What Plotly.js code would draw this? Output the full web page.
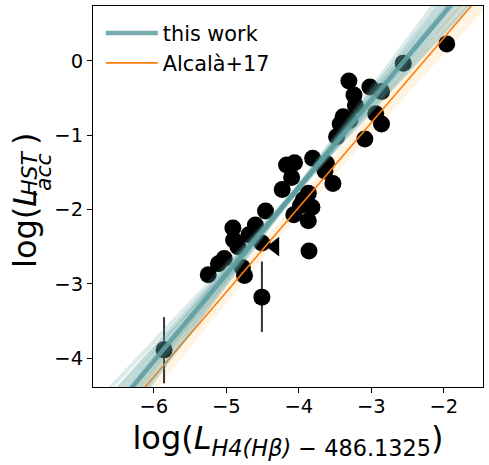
<!DOCTYPE html>
<html>
<head>
<meta charset="utf-8">
<script src="https://cdn.plot.ly/plotly-3.0.1.min.js"></script>
<style>html,body{margin:0;padding:0;background:#fff;}</style>
</head>
<body>
<div id="chart" style="width:489px;height:465px;"></div>
<script>
// ---- data ----
var ptX = [-1.96,-2.56,-3.31,-3.02,-2.86,-3.24,-3.22,-3.39,-2.94,-2.86,-3.43,-3.48,-3.09,-3.30,
           -3.81,-4.17,-4.06,-3.62,-3.64,-3.53,-4.10,-4.23,-3.87,-3.94,-3.82,-4.07,-4.46,-3.87,
           -4.60,-4.91,-4.69,-4.90,-4.84,-4.51,-3.86,-5.03,-5.11,-4.78,-5.25,-4.75,-4.51,-5.86,-3.98];
var ptY = [0.23,-0.03,-0.27,-0.35,-0.41,-0.46,-0.60,-0.75,-0.71,-0.85,-0.85,-1.02,-1.05,-0.80,
           -1.31,-1.40,-1.37,-1.38,-1.48,-1.65,-1.57,-1.73,-1.78,-1.87,-1.97,-2.07,-2.02,-2.15,
           -2.21,-2.25,-2.34,-2.41,-2.50,-2.45,-2.56,-2.66,-2.73,-2.78,-2.88,-2.89,-3.18,-3.89,-1.95];
var errPlus  = [0,0,0,0,0,0,0,0,0,0,0,0,0,0,0,0,0,0,0,0,0,0,0,0,0,0,0,0,0,0,0,0,0,0,0,0,0,0,0,0,0.48,0.44,0];
var errMinus = [0,0,0,0,0,0,0,0,0,0,0,0,0,0,0,0,0,0,0,0,0,0,0,0,0,0,0,0,0,0,0,0,0,0,0,0,0,0,0,0,0.47,0.45,0];
var limX = [-4.33];
var limY = [-2.50];

// fit samples ("this work"): slopes and intercepts
var sampleSlope = [1.04,1.07,1.09,1.11,1.13,1.15,1.16,1.17,1.18,1.19,1.21,1.23,1.25,1.28,1.31];
var sampleInter = [2.46,2.55,2.66,2.72,2.83,2.88,2.95,2.97,3.03,3.05,3.15,3.21,3.32,3.41,3.56];
var fitSlope = 1.17, fitInter = 2.98;
// Alcala+17 relation and its band
var alcSlope = 1.14, alcInter = 2.59;
var bandX = [-7.2, -5.5, -4.2, -3.0, -1.0];
var bandHalf = [0.30, 0.18, 0.11, 0.15, 0.28];

var xTicks = [-6,-5,-4,-3,-2];
var yTicks = [-4,-3,-2,-1,0];

// ---- build traces ----
var lineX = [-7.5, -1.0];
function lineY(a,b){ return lineX.map(function(x){return a*x+b;}); }

var traces = [];
var bandY0 = bandX.map(function(x,i){return alcSlope*x+alcInter-bandHalf[i];});
var bandY1 = bandX.map(function(x,i){return alcSlope*x+alcInter+bandHalf[i];});
traces.push({x: bandX, y: bandY0, mode:'lines', line:{width:0, color:'rgba(0,0,0,0)'}, showlegend:false, hoverinfo:'skip'});
traces.push({x: bandX, y: bandY1, mode:'lines', fill:'tonexty', fillcolor:'rgba(255,200,120,0.22)', line:{width:0, color:'rgba(0,0,0,0)'}, showlegend:false, hoverinfo:'skip'});

traces.push({x: ptX, y: ptY, mode:'markers', type:'scatter', showlegend:false,
  marker:{color:'#000', size:17},
  error_y:{type:'data', symmetric:false, array: errPlus, arrayminus: errMinus, color:'#333', thickness:2, width:0}
});
traces.push({x: limX, y: limY, mode:'markers', showlegend:false,
  marker:{color:'#000', size:17, symbol:'triangle-left'}});

traces.push({x: lineX, y: lineY(alcSlope, alcInter), mode:'lines', line:{color:'#ff7f0e', width:1.6},
  name:'Alcalà+17'});

for (var i=0;i<sampleSlope.length;i++){
  traces.push({x: lineX, y: lineY(sampleSlope[i], sampleInter[i]), mode:'lines', showlegend:false, hoverinfo:'skip',
    line:{color:'#5f9ea0', width:4}, opacity:0.22});
}
traces.push({x: lineX, y: lineY(fitSlope, fitInter), mode:'lines', line:{color:'#5f9ea0', width:4.5}, opacity:0.85,
  name:'this work'});

// y-axis title pieces (stacked super/subscript like the reference)
function px2paperX(p){ return (p-93)/390; }
function px2paperY(p){ return (387-p)/381; }
var yTitle = [
  {text:'log(<i>L</i>', px:25, py:229, size:32},
  {text:'<i>HST</i>', px:29, py:173, size:22},
  {text:'<i>acc</i>', px:43, py:172, size:22},
  {text:')', px:25, py:139, size:32}
];
var annotations = yTitle.map(function(t){
  return {text:t.text, xref:'paper', yref:'paper', x:px2paperX(t.px), y:px2paperY(t.py),
    xanchor:'center', yanchor:'middle', showarrow:false, textangle:-90,
    font:{size:t.size, family:'DejaVu Sans', color:'#000'}};
});

var layout = {
  width: 489, height: 465,
  margin: {l:93, r:6, t:6, b:78},
  paper_bgcolor:'#fff', plot_bgcolor:'#fff',
  font: {family:'DejaVu Sans', color:'#000', size:19},
  showlegend: true,
  legend: {x:0.02, y:0.982, xanchor:'left', yanchor:'top', traceorder:'reversed',
    bgcolor:'rgba(0,0,0,0)', font:{size:20.8, family:'DejaVu Sans'}, itemwidth:52},
  annotations: annotations,
  xaxis: {range:[-6.84,-1.46], tickvals:xTicks, ticks:'outside', ticklen:5, tickwidth:1, tickcolor:'#000',
    showline:true, mirror:true, linecolor:'#000', linewidth:1, showgrid:false, zeroline:false,
    tickfont:{size:19.5}, ticklabelstandoff:-3,
    title:{text:'log(<i>L</i><sub><i>H4(Hβ)</i> − 486.1325</sub>)', font:{size:32}, standoff:9}},
  yaxis: {range:[-4.39,0.74], tickvals:yTicks, ticks:'outside', ticklen:5, tickwidth:1, tickcolor:'#000',
    showline:true, mirror:true, linecolor:'#000', linewidth:1, showgrid:false, zeroline:false,
    tickfont:{size:19.5}}
};

Plotly.newPlot('chart', traces, layout, {staticPlot:true, displayModeBar:false});
</script>
</body>
</html>
